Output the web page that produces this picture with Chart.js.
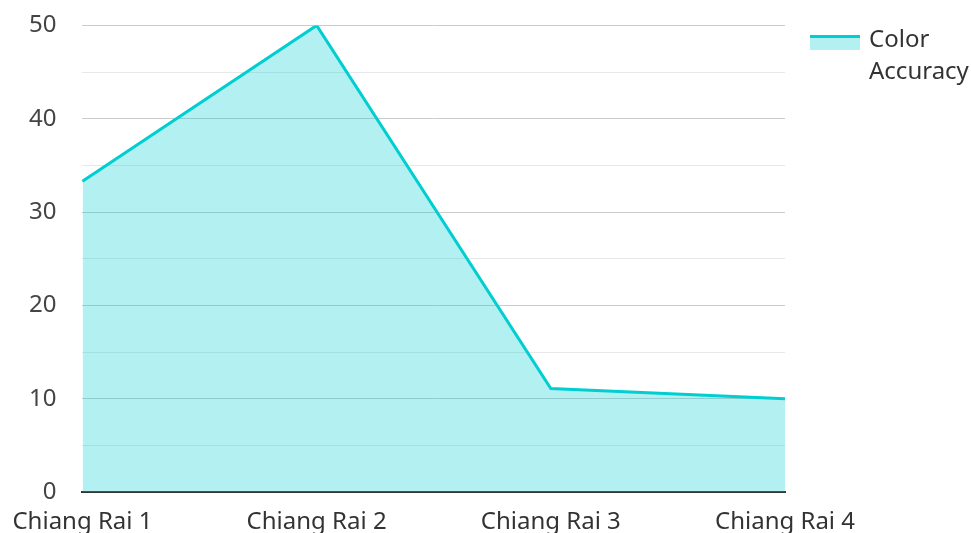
<!DOCTYPE html>
<html lang="en">
<head>
  <meta charset="UTF-8" />
  <title>Color Accuracy</title>
  <script src="https://cdn.jsdelivr.net/npm/chart.js"></script>
  <style>
    html, body {
      margin: 0;
      padding: 0;
      background: #fff;
      overflow: hidden;
    }
    #wrap {
      position: relative;
      width: 971px;
      height: 533px;
      overflow: hidden;
    }
    #myChart {
      position: absolute;
      left: 0;
      top: -15px;
    }
    #legend {
      position: absolute;
      left: 810px;
      top: 22px;
      font-family: "Noto Sans", sans-serif;
      font-size: 24px;
      line-height: 32px;
      color: #333;
    }
    #legend .box {
      position: absolute;
      left: 0;
      top: 13px;
      width: 50px;
      height: 12px;
      border-top: 3px solid #00CED1;
      background: rgba(0, 206, 209, 0.3);
    }
    #legend .txt {
      margin-left: 59px;
      width: 120px;
    }
  </style>
</head>
<body>
  <div id="wrap">
    <canvas id="myChart" width="971" height="548"></canvas>
    <div id="legend"><div class="box"></div><div class="txt">Color<br>Accuracy</div></div>
  </div>

  <script>
    // chart data
    const categories = ["Chiang Rai 1", "Chiang Rai 2", "Chiang Rai 3", "Chiang Rai 4"];
    const colorAccuracy = [33.3, 50, 11.1, 10];
    const seriesName = "Color Accuracy";

    const ctx = document.getElementById('myChart').getContext('2d');

    const myChart = new Chart(ctx, {
      type: 'line',
      data: {
        labels: categories,
        datasets: [
          {
            label: seriesName,
            data: colorAccuracy,
            borderColor: '#00CED1',
            backgroundColor: 'rgba(0, 206, 209, 0.3)',
            borderWidth: 3,
            pointRadius: 0,
            fill: 'origin',
            tension: 0
          }
        ]
      },
      options: {
        responsive: false,
        animation: false,
        layout: {
          padding: { left: 3, right: 186, top: 0, bottom: -12 }
        },
        plugins: {
          legend: { display: false },
          tooltip: { enabled: false }
        },
        scales: {
          x: {
            offset: false,
            grid: { display: false },
            border: { color: '#333', width: 2 },
            ticks: {
              color: '#333',
              font: { family: 'Noto Sans', size: 24 },
              maxRotation: 0,
              padding: 8
            }
          },
          y: {
            min: 0,
            max: 50,
            border: { display: false },
            grid: {
              drawTicks: false,
              color: c => (c.tick.value % 10 === 0 ? '#cccccc' : '#e8e8e8'),
              lineWidth: 1
            },
            ticks: {
              stepSize: 5,
              padding: 26,
              color: '#444',
              font: { family: 'Noto Sans', size: 24 },
              callback: v => (v % 10 === 0 ? v : '')
            }
          }
        }
      }
    });
  </script>
</body>
</html>
